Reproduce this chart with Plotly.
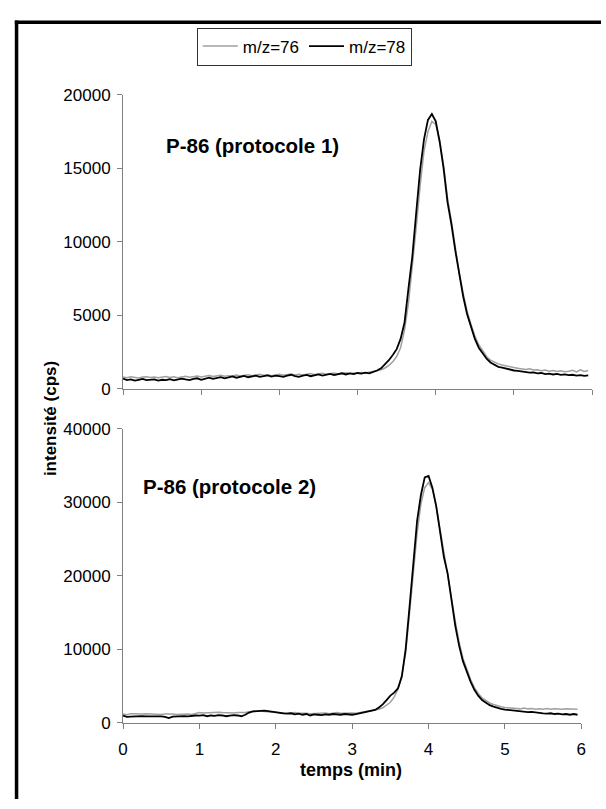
import numpy as np
import plotly.graph_objects as go

# temps d'acquisition (min)
temps = np.round(np.arange(0, 6.0, 0.05), 2)

# P-86 protocole 1
p1_mz76 = [800, 760, 820, 780, 740, 800, 830, 770, 810, 750, 790, 840, 780, 820, 760, 800, 850, 790, 830, 870,
           810, 850, 900, 840, 880, 920, 860, 900, 880, 940, 870, 910, 960, 890, 930, 1000, 920, 960, 900, 950,
           990, 930, 970, 1010, 950, 990, 940, 1000, 1040, 970, 1010, 1060, 990, 1030, 1080, 1010, 1050, 1100, 1040, 1080,
           1060, 1110, 1080, 1140, 1200, 1230, 1300, 1420, 1600, 1850, 2200, 2800, 4000, 5800, 8200, 11000, 13800, 16200, 17500, 18200,
           18000, 16900, 15200, 13000, 11400, 9600, 7900, 6500, 5300, 4400, 3600, 3000, 2550, 2200, 1950, 1800, 1700, 1620, 1550, 1500,
           1450, 1400, 1380, 1320, 1360, 1280, 1300, 1240, 1280, 1200, 1250, 1180, 1230, 1160, 1200, 1260, 1150, 1300, 1180, 1250]
p1_mz78 = [700, 600, 650, 560, 620, 680, 590, 610, 650, 560, 620, 600, 660, 580, 620, 700, 640, 600, 680, 720,
           620, 700, 760, 680, 740, 800, 720, 780, 850, 760, 800, 880, 790, 840, 900, 820, 860, 920, 840, 900,
           860, 820, 900, 960, 870, 820, 900, 950, 860, 920, 980, 900, 960, 1020, 940, 1000, 1060, 980, 1050, 1000,
           1080, 1040, 1100, 1060, 1150, 1250, 1400, 1650, 1950, 2300, 2700, 3400, 4500, 6800, 9000, 12000, 14900, 17000, 18300, 18700,
           18200, 16800, 15000, 12700, 11200, 9400, 7700, 6300, 5100, 4200, 3400, 2800, 2400, 2050, 1800, 1650, 1500, 1450, 1380, 1300,
           1250, 1220, 1180, 1150, 1100, 1120, 1050, 1080, 1000, 1040, 980, 1020, 950, 990, 930, 960, 900, 940, 880, 920]

# P-86 protocole 2
p2_mz76 = [1200, 1100, 1250, 1200, 1250, 1200, 1250, 1200, 1250, 1200, 1150, 1200, 1250, 1200, 1150, 1200, 1250, 1200, 1150, 1250,
           1400, 1350, 1400, 1350, 1400, 1450, 1400, 1350, 1400, 1350, 1400, 1350, 1400, 1500, 1550, 1600, 1650, 1550, 1500, 1450,
           1400, 1350, 1400, 1300, 1350, 1400, 1300, 1350, 1300, 1250, 1300, 1350, 1300, 1350, 1250, 1300, 1400, 1300, 1350, 1300,
           1350, 1300, 1400, 1450, 1500, 1600, 1700, 1850, 2050, 2400, 2800, 3500, 4600, 6500, 9500, 14800, 20500, 25800, 29800, 32000,
           32700, 31800, 29500, 26500, 23000, 20500, 17000, 13800, 11000, 8800, 7200, 5900, 4800, 4000, 3400, 3000, 2700, 2500, 2300, 2200,
           2100, 2050, 2000, 1950, 1900, 2000, 1900, 1950, 1850, 1900, 1850, 1950, 1850, 1900, 1850, 1850, 1900, 1850, 1850, 1850]
p2_mz78 = [1000, 800, 850, 900, 870, 920, 880, 900, 860, 910, 880, 820, 650, 850, 900, 870, 920, 880, 950, 1000,
           980, 1050, 900, 1000, 950, 1050, 1000, 900, 980, 1050, 1000, 900, 1100, 1400, 1550, 1600, 1700, 1650, 1600, 1500,
           1400, 1350, 1300, 1250, 1300, 1150, 1250, 1100, 1200, 1000, 1150, 1100, 1050, 1150, 1100, 1200, 1150, 1100, 1200, 1150,
           1100, 1200, 1300, 1350, 1450, 1600, 1750, 2100, 2500, 3100, 3700, 4100, 4700, 6300, 10000, 15700, 22000, 27500, 31000, 33400,
           33600, 32000, 29500, 26300, 22600, 20300, 16500, 13200, 10500, 8400, 7000, 5600, 4500, 3700, 3100, 2700, 2400, 2200, 2000, 1900,
           1800, 1750, 1650, 1600, 1550, 1600, 1450, 1500, 1400, 1350, 1300, 1250, 1300, 1200, 1250, 1150, 1200, 1100, 1200, 1100]

GRIS = "#a0a0a0"
AXE = "#808080"
FONT = "Liberation Sans, Arial, sans-serif"
W, H = 606, 809

fig = go.Figure()
fig.add_trace(go.Scatter(x=temps, y=p1_mz76, name="m/z=76", mode="lines",
                         line=dict(color=GRIS, width=1.5), xaxis="x", yaxis="y"))
fig.add_trace(go.Scatter(x=temps, y=p1_mz78, name="m/z=78", mode="lines",
                         line=dict(color="black", width=1.8), xaxis="x", yaxis="y"))
fig.add_trace(go.Scatter(x=temps, y=p2_mz76, name="m/z=76", mode="lines", showlegend=False,
                         line=dict(color=GRIS, width=1.5), xaxis="x2", yaxis="y2"))
fig.add_trace(go.Scatter(x=temps, y=p2_mz78, name="m/z=78", mode="lines", showlegend=False,
                         line=dict(color="black", width=1.8), xaxis="x2", yaxis="y2"))

axe = dict(showline=True, linecolor=AXE, linewidth=1, showgrid=False, zeroline=False,
           ticks="outside", ticklen=5, tickcolor=AXE, tickfont=dict(size=17, color="black"))

fig.update_layout(
    width=W, height=H,
    margin=dict(l=0, r=0, t=0, b=0),
    paper_bgcolor="white", plot_bgcolor="white",
    font=dict(family=FONT, color="black"),
    xaxis=dict(domain=[120/W, 597/W], anchor="y", range=[0, 6], dtick=1,
               showticklabels=False, **axe),
    yaxis=dict(domain=[1-389/H, 1-88/H], anchor="x", range=[0, 20000], dtick=5000,
               tickformat="d", ticklabelstandoff=3, **axe),
    xaxis2=dict(domain=[120/W, 586/W], anchor="y2", range=[0, 6], dtick=1,
                ticklabelstandoff=6, **axe),
    yaxis2=dict(domain=[1-731/H, 1-430/H], anchor="x2", range=[0, 40000], dtick=10000,
                tickformat="d", ticklabelstandoff=3, **axe),
    legend=dict(orientation="h", x=195/W, y=1-19/H, xanchor="left", yanchor="top",
                bordercolor="#333333", borderwidth=1, font=dict(size=17),
                itemwidth=35, tracegroupgap=0),
    showlegend=True,
)

# cadre : bord gauche et bord haut
fig.add_shape(type="line", xref="paper", yref="paper",
              x0=11.75/W, x1=11.75/W, y0=0, y1=1-11.75/H,
              line=dict(color="black", width=3.5))
fig.add_shape(type="line", xref="paper", yref="paper",
              x0=10/W, x1=1, y0=1-13.5/H, y1=1-13.5/H,
              line=dict(color="black", width=3.5))

fig.add_annotation(text="<b>P-86 (protocole 1)</b>", x=162/W, y=1-140/H,
                   xref="paper", yref="paper", xanchor="left", yanchor="middle",
                   showarrow=False, font=dict(size=20.5))
fig.add_annotation(text="<b>P-86 (protocole 2)</b>", x=138/W, y=1-489/H,
                   xref="paper", yref="paper", xanchor="left", yanchor="middle",
                   showarrow=False, font=dict(size=20.5))
fig.add_annotation(text="<b>intensité (cps)</b>", x=34/W, y=1-419/H,
                   xref="paper", yref="paper", textangle=-90,
                   showarrow=False, font=dict(size=17))
fig.add_annotation(text="<b>temps (min)</b>", x=352/W, y=1-792/H,
                   xref="paper", yref="paper",
                   showarrow=False, font=dict(size=18))

# pas de marge autour du graphique dans la page
fig.write_html("out.html", post_script="document.body.style.margin='0';",
               config={"displayModeBar": False})
